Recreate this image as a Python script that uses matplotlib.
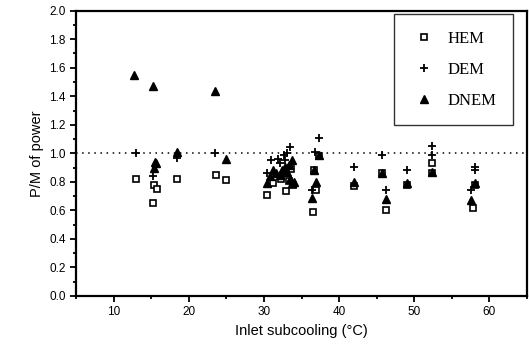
# P/M of power vs inlet subcooling, three models
import matplotlib
matplotlib.use("Agg")
import matplotlib.pyplot as plt
from matplotlib.ticker import MultipleLocator

# HEM (open squares)
hem_x = [12.95, 15.2, 15.4, 15.7, 18.4, 23.6, 24.9, 30.4, 31.2, 32.3, 32.9, 33.3, 33.6, 33.8,
         36.5, 36.9, 36.7, 37.3, 42.0, 45.7, 46.2, 49.1, 52.4, 52.4, 57.8, 58.1]
hem_y = [0.82, 0.65, 0.776, 0.75, 0.82, 0.846, 0.81, 0.71, 0.795, 0.82, 0.735, 0.806, 0.89, 0.78,
         0.59, 0.74, 0.88, 0.98, 0.77, 0.86, 0.605, 0.775, 0.93, 0.86, 0.62, 0.78]

# DEM (plus)
dem_x = [12.9, 15.2, 18.4, 23.5, 30.35, 31.0, 31.9, 32.6, 33.0, 33.5, 32.1, 32.8, 33.2,
         36.75, 37.3, 36.4, 42.0, 45.7, 46.2, 49.1, 52.4, 52.4, 58.1, 58.1, 57.6]
dem_y = [1.00, 0.84, 0.97, 1.005, 0.86, 0.95, 0.96, 0.985, 1.0, 1.045, 0.93, 0.95, 0.90,
         1.01, 1.105, 0.74, 0.905, 0.985, 0.745, 0.885, 1.05, 0.985, 0.905, 0.88, 0.74]

# DNEM (filled triangles)
dnem_x = [12.7, 15.2, 23.5, 15.5, 15.6, 15.3, 18.4, 24.9, 30.4, 30.8, 31.2, 31.6, 32.1, 32.4,
          32.8, 33.0, 33.3, 33.7, 33.4, 33.7, 34.0, 36.4, 36.6, 36.9, 37.3, 42.0, 45.7, 46.2,
          49.1, 52.4, 57.6, 58.1]
dnem_y = [1.55, 1.47, 1.435, 0.94, 0.93, 0.90, 1.01, 0.96, 0.79, 0.84, 0.88, 0.86, 0.85, 0.88,
          0.905, 0.87, 0.92, 0.955, 0.82, 0.79, 0.80, 0.69, 0.88, 0.80, 0.985, 0.80, 0.86, 0.68,
          0.79, 0.87, 0.675, 0.79]

plt.rcParams['font.family'] = ['Liberation Sans', 'DejaVu Sans']

fig = plt.figure(figsize=(5.29, 3.57), dpi=100)
ax = fig.add_axes([0.144, 0.171, 0.852, 0.799])

ax.axhline(1.0, color='black', linestyle=(0, (1, 3)), linewidth=1.1, zorder=1)

ax.plot(hem_x, hem_y, linestyle='none', marker='s', markersize=5, markerfacecolor='white',
        markeredgecolor='black', markeredgewidth=1.2, label='HEM', zorder=3)
ax.plot(dem_x, dem_y, linestyle='none', marker='+', markersize=6, color='black',
        markeredgewidth=1.3, label='DEM', zorder=3)
ax.plot(dnem_x, dnem_y, linestyle='none', marker='^', markersize=6, color='black',
        label='DNEM', zorder=3)

ax.set_xlim(5, 65)
ax.set_ylim(0, 2.0)
ax.xaxis.set_major_locator(MultipleLocator(10))
ax.xaxis.set_minor_locator(MultipleLocator(5))
ax.yaxis.set_major_locator(MultipleLocator(0.2))
ax.yaxis.set_minor_locator(MultipleLocator(0.1))
ax.set_yticklabels([f"{v:.1f}" for v in ax.get_yticks()])

for s in ax.spines.values():
    s.set_linewidth(1.6)
ax.tick_params(which='both', direction='out', width=1.3, labelsize=8.5)
ax.tick_params(which='major', length=4)
ax.tick_params(which='minor', length=2.5)

ax.set_xlabel('Inlet subcooling (°C)', fontsize=10.5)
ax.set_ylabel('P/M of power', fontsize=10.5)

leg = ax.legend(loc='upper right', bbox_to_anchor=(0.969, 0.988), borderaxespad=0,
                frameon=True, fancybox=False,
                edgecolor='black', handletextpad=0.6, labelspacing=0.9, borderpad=1.0,
                handlelength=1.6, markerscale=0.85,
                prop={'family': 'Liberation Serif', 'size': 12})
leg.get_frame().set_linewidth(1.0)

fig.savefig('out.png', dpi=100)
